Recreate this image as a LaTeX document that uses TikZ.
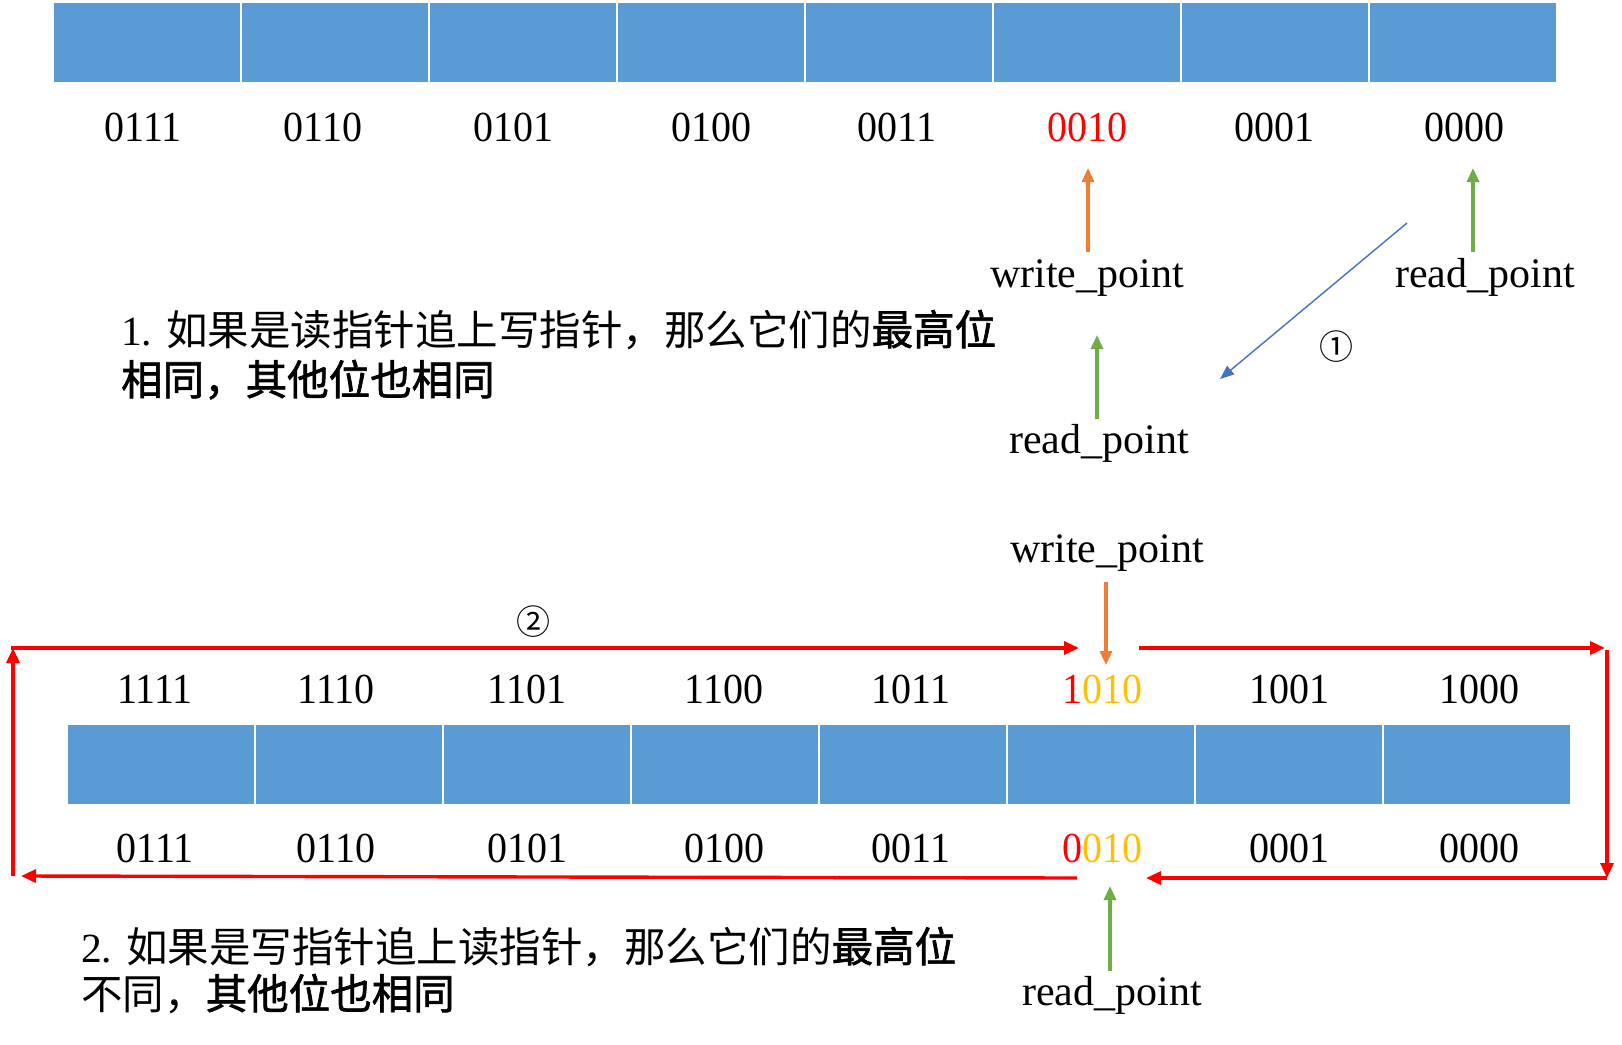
\documentclass[tikz,border=0pt]{standalone}
\usepackage{graphicx}
\usepackage{fontspec}
\setmainfont{Liberation Serif}
\newfontfamily\cjk{Noto Sans CJK SC}
\newfontfamily\cjkb[FakeBold=1.6]{Noto Sans CJK SC}
\usetikzlibrary{arrows.meta}
\definecolor{cellblue}{HTML}{5B9BD5}
\definecolor{arrorange}{HTML}{ED7D31}
\definecolor{arrgreen}{HTML}{70AD47}
\definecolor{arrblue}{HTML}{4472C4}
\definecolor{goldc}{HTML}{FFC000}
\newcommand{\dg}[1]{\scalebox{1}[1.07]{#1}}
\begin{document}
\begin{tikzpicture}[x=1pt,y=-1pt,
  cell/.style={fill=cellblue, draw=white, line width=2pt, minimum width=188pt, minimum height=81pt, inner sep=0pt, outer sep=0pt, anchor=north west},
  digit/.style={font=\fontsize{40}{48}\selectfont, inner sep=0pt, anchor=base},
  plab/.style={font=\fontsize{42}{50}\selectfont, inner sep=0pt, anchor=base},
  para/.style={font=\fontsize{41.5}{50}\selectfont\cjk, inner sep=0pt, anchor=base west},
  circ/.style={font=\fontsize{34}{40}\selectfont\cjk, inner sep=0pt},
  ptrarrow/.style={line width=3.2pt, -{Triangle[length=14pt,width=12pt]}},
  redarrow/.style={red, line width=3.4pt, -{Triangle[length=15pt,width=13pt]}},
]
\useasboundingbox (0,0) rectangle (1622,1044);
\fill[white] (0,0) rectangle (1622,1044);

% ---------- top bar ----------
\foreach \i in {0,...,7} {
  \node[cell] (t\i) at ({53+188*\i},2) {};
}
\node[digit] (td0) at (143,141) {\dg{0111}};
\node[digit] (td1) at (323,141) {\dg{0110}};
\node[digit] (td2) at (513,141) {\dg{0101}};
\node[digit] (td3) at (711,141) {\dg{0100}};
\node[digit] (td4) at (897,141) {\dg{0011}};
\node[digit, text=red] (td5) at (1087,141) {\dg{0010}};
\node[digit] (td6) at (1274,141) {\dg{0001}};
\node[digit] (td7) at (1464,141) {\dg{0000}};

\node[plab] (wp1) at (1087,287) {write\_point};
\node[plab] (rp1) at (1485,287) {read\_point};
\node[plab] (rp2) at (1099,453) {read\_point};

\coordinate (wp1s) at (1088,252);
\coordinate (wp1e) at (1088,168);
\coordinate (rp1s) at (1473,252);
\coordinate (rp1e) at (1473,168);
\coordinate (rp2s) at (1097,419);
\coordinate (rp2e) at (1097,335);
\draw[ptrarrow, arrorange] (wp1s) -- (wp1e);
\draw[ptrarrow, arrgreen] (rp1s) -- (rp1e);
\draw[ptrarrow, arrgreen] (rp2s) -- (rp2e);

\coordinate (bls) at (1407,223);
\coordinate (ble) at (1220,379);
\draw[arrblue, line width=1.4pt, -{Triangle[length=14pt,width=11pt]}] (bls) -- (ble);
\node[circ] (c1) at (1336,347) {①};

\node[para] (p1a) at (121,345) {\rmfamily 1. \cjk 如果是读指针追上写指针，那么它们的\cjkb 最高位};
\node[para] (p1b) at (121,395) {\cjkb 相同，其他位也相同};

% ---------- bottom bar ----------
\foreach \i in {0,...,7} {
  \node[cell] (b\i) at ({67+188*\i},724) {};
}
\node[digit] (bu0) at (155,703) {\dg{1111}};
\node[digit] (bu1) at (336,703) {\dg{1110}};
\node[digit] (bu2) at (527,703) {\dg{1101}};
\node[digit] (bu3) at (724,703) {\dg{1100}};
\node[digit] (bu4) at (911,703) {\dg{1011}};
\node[digit] (bu5) at (1102,703) {\dg{\textcolor{red}{1}\textcolor{goldc}{010}}};
\node[digit] (bu6) at (1289,703) {\dg{1001}};
\node[digit] (bu7) at (1479,703) {\dg{1000}};

\node[digit] (bl0) at (155,862) {\dg{0111}};
\node[digit] (bl1) at (336,862) {\dg{0110}};
\node[digit] (bl2) at (527,862) {\dg{0101}};
\node[digit] (bl3) at (724,862) {\dg{0100}};
\node[digit] (bl4) at (911,862) {\dg{0011}};
\node[digit] (bl5) at (1102,862) {\dg{\textcolor{red}{0}\textcolor{goldc}{010}}};
\node[digit] (bl6) at (1289,862) {\dg{0001}};
\node[digit] (bl7) at (1479,862) {\dg{0000}};

\node[plab] (wp2) at (1107,562) {write\_point};
\node[plab] (rp3) at (1112,1005) {read\_point};
\coordinate (wp2s) at (1106,582);
\coordinate (wp2e) at (1106,665);
\coordinate (rp3s) at (1110,971);
\coordinate (rp3e) at (1110,886);
\draw[ptrarrow, arrorange] (wp2s) -- (wp2e);
\draw[ptrarrow, arrgreen] (rp3s) -- (rp3e);

\node[circ] (c2) at (533,622) {②};

% red loop
\coordinate (r1) at (13,876);
\coordinate (r2) at (13,648);
\coordinate (r3) at (1079,648);
\coordinate (r4) at (1139,648);
\coordinate (r5) at (1605,648);
\coordinate (r6) at (1607,648);
\coordinate (r7) at (1607,878);
\coordinate (r8) at (1605,878);
\coordinate (r9) at (1146,878);
\coordinate (r10) at (1077,878);
\coordinate (r11) at (21,876);
\draw[redarrow] (r1) -- (r2);
\draw[redarrow] ([xshift=-1.7pt]r2) -- (r3);
\draw[redarrow] (r4) -- (r5);
\draw[redarrow] ([yshift=-1.7pt]r6) -- (r7);
\draw[redarrow] ([xshift=1.7pt]r8) -- (r9);
\draw[redarrow] (r10) -- (r11);

\node[para] (p2a) at (81,962) {\rmfamily 2. \cjk 如果是写指针追上读指针，那么它们的\cjkb 最高位};
\node[para] (p2b) at (81,1009) {不同，\cjkb 其他位也相同};
\end{tikzpicture}
\end{document}
